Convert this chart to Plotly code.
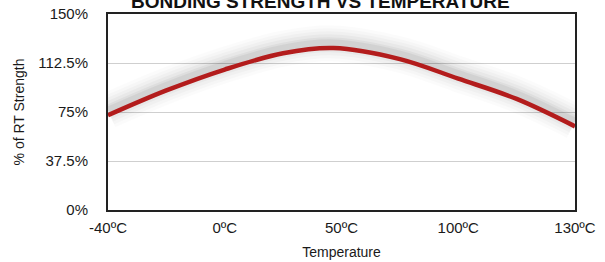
import plotly.graph_objects as go

# Data (x given as position on the ordinal temperature axis: 0=-40ºC ... 4=130ºC)
tick_labels = ["-40ºC", "0ºC", "50ºC", "100ºC", "130ºC"]
axis_pos = [0, 0.5, 1.0, 1.5, 1.93, 2.5, 3.0, 3.5, 4.0]
strength_pct = [72.5, 91.5, 107.5, 120, 124, 115.5, 100.5, 85, 64]
y_ticks = [0, 37.5, 75, 112.5, 150]
y_tick_labels = ["0%", "37.5%", "75%", "112.5%", "150%"]

FONT = "Liberation Sans, Arial, Helvetica, sans-serif"
fig = go.Figure()

# soft drop shadow (offset upward)
shadow_off = 3.5
for w, a in [(36, 0.016), (30, 0.02), (24, 0.025), (18, 0.03), (12, 0.04), (8, 0.05)]:
    fig.add_trace(go.Scatter(
        x=axis_pos, y=[v + shadow_off for v in strength_pct], mode="lines",
        line=dict(color=f"rgba(0,0,0,{a})", width=w, shape="spline", smoothing=1.0),
        hoverinfo="skip", showlegend=False))

fig.add_trace(go.Scatter(
    x=axis_pos, y=strength_pct, mode="lines",
    line=dict(color="#b31c1c", width=4.5, shape="spline", smoothing=1.0),
    showlegend=False))

fig.update_layout(
    width=605, height=262,
    margin=dict(l=108, r=30, t=14, b=52, autoexpand=False),
    paper_bgcolor="white", plot_bgcolor="white",
    font=dict(family=FONT, size=15, color="#1a1a1a"),
    annotations=[dict(
        text="<b>BONDING STRENGTH VS TEMPERATURE</b>",
        x=0.456, y=1.063, xref="paper", yref="paper",
        xanchor="center", yanchor="middle", showarrow=False,
        font=dict(family=FONT, size=19, color="#111"))],
)
fig.update_xaxes(
    range=[0, 4], tickvals=list(range(len(tick_labels))), ticktext=tick_labels,
    showgrid=False, zeroline=False, automargin=False,
    showline=True, linecolor="#222", linewidth=2, mirror=True,
    ticks="outside", ticklen=3, tickcolor="rgba(0,0,0,0)",
    title=dict(text="Temperature", font=dict(size=14), standoff=12),
)
fig.update_yaxes(
    range=[0, 150], tickvals=y_ticks, ticktext=y_tick_labels,
    showgrid=True, gridcolor="#cfcfcf", gridwidth=1, zeroline=False, automargin=False,
    showline=True, linecolor="#222", linewidth=2, mirror=True,
    ticks="outside", ticklen=15, tickcolor="rgba(0,0,0,0)",
    title=dict(text="% of RT Strength", font=dict(size=14), standoff=10),
)
fig.write_html("out.html", config={"displayModeBar": False},
               post_script="document.body.style.margin='0';document.body.style.overflow='hidden';")
